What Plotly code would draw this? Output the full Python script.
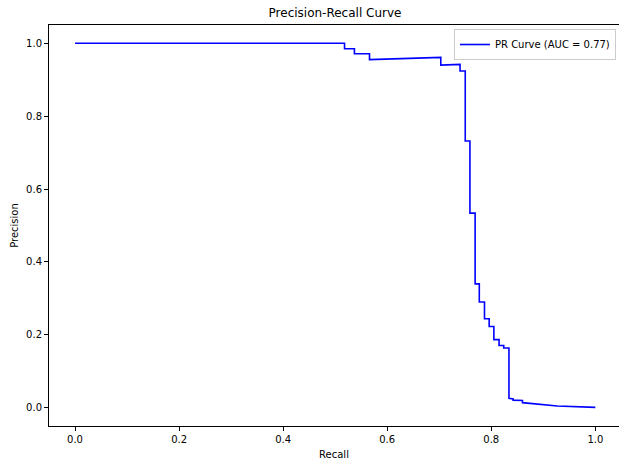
import plotly.graph_objects as go

recall = [0.0, 0.518, 0.518, 0.537, 0.537, 0.566, 0.566, 0.703, 0.703, 0.740, 0.740,
          0.750, 0.750, 0.759, 0.759, 0.769, 0.769, 0.777, 0.777, 0.787, 0.787,
          0.796, 0.796, 0.805, 0.805, 0.815, 0.815, 0.824, 0.824, 0.834, 0.834,
          0.842, 0.842, 0.860, 0.860, 0.889, 0.927, 1.0]
precision = [1.0, 1.0, 0.985, 0.985, 0.971, 0.971, 0.955, 0.961, 0.940, 0.942, 0.924,
             0.924, 0.732, 0.732, 0.534, 0.534, 0.340, 0.340, 0.290, 0.290, 0.244,
             0.244, 0.223, 0.223, 0.187, 0.187, 0.171, 0.171, 0.164, 0.164, 0.026,
             0.024, 0.021, 0.020, 0.014, 0.010, 0.005, 0.001]
auc_value = 0.77
tick_vals = [0.0, 0.2, 0.4, 0.6, 0.8, 1.0]

FONT = "DejaVu Sans"

fig = go.Figure()
fig.add_trace(go.Scatter(
    x=recall, y=precision, mode="lines",
    line=dict(color="#0000ff", width=1.6),
    name=f"PR Curve (AUC = {auc_value:.2f})",
))

axis_common = dict(
    showgrid=False, zeroline=False, showline=True, linecolor="black", linewidth=1,
    ticks="outside", ticklen=4, tickwidth=1, tickcolor="black",
    tickvals=tick_vals, tickformat=".1f", automargin=False,
    tickfont=dict(family=FONT, size=10, color="black"),
)

fig.update_layout(
    width=619, height=464,
    margin=dict(l=49, r=0, t=25, b=38, autoexpand=False),
    paper_bgcolor="white", plot_bgcolor="white",
    font=dict(family=FONT, size=10, color="black"),
    title=dict(text="Precision-Recall Curve", x=335 / 619, xanchor="center",
               y=1 - 12.5 / 464, yanchor="middle",
               font=dict(family=FONT, size=12, color="black")),
    xaxis=dict(range=[-0.05, 1.0455], mirror=True,
               title=dict(text="Recall", standoff=6, font=dict(family=FONT, size=10)),
               **axis_common),
    yaxis=dict(range=[-0.05, 1.05],
               title=dict(text="Precision", standoff=5, font=dict(family=FONT, size=10)),
               **axis_common),
    showlegend=True,
    legend=dict(x=0.9947, y=0.99, xanchor="right", yanchor="top",
                bgcolor="rgba(255,255,255,0.8)", bordercolor="#cccccc", borderwidth=1,
                font=dict(family=FONT, size=10, color="black"),
                itemwidth=30, tracegroupgap=0),
)

fig.write_html("out.html",
               config={"displayModeBar": False},
               post_script="document.body.style.margin='0';document.body.style.overflow='hidden';")
